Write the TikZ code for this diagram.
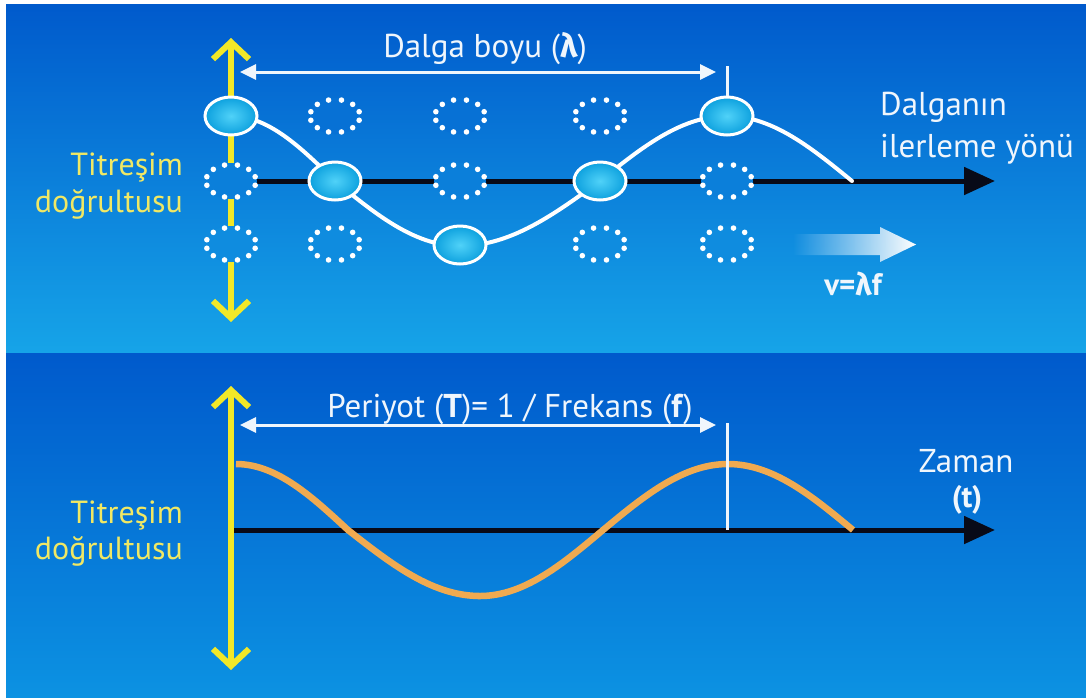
\documentclass[tikz,border=0pt]{standalone}
\usepackage{fontspec}
\setmainfont{PT Sans}
\newfontfamily\grk{Fira Sans}
\usetikzlibrary{arrows.meta,fadings,shapes.geometric}

\definecolor{panelTopA}{RGB}{0,90,204}
\definecolor{panelTopB}{RGB}{22,164,232}
\definecolor{panelBotA}{RGB}{0,90,204}
\definecolor{panelBotB}{RGB}{12,146,226}
\definecolor{vibYellow}{RGB}{242,232,40}
\definecolor{labelYellow}{RGB}{240,232,100}
\definecolor{waveOrange}{RGB}{240,170,80}
\definecolor{ballIn}{RGB}{80,210,248}
\definecolor{ballOut}{RGB}{12,160,222}
\definecolor{txtWhite}{RGB}{240,246,252}
\definecolor{axisBlack}{RGB}{8,10,24}
% background tones behind the three rows of dotted rings
\colorlet{rowA}{panelTopB!31!panelTopA}
\colorlet{rowB}{panelTopB!50!panelTopA}
\colorlet{rowC}{panelTopB!68!panelTopA}

\tikzfading[name=arrowfade, left color=transparent!100, middle color=transparent!5, right color=transparent!0]

\tikzset{
  vib/.style={draw=vibYellow, line width=6pt,
    {Straight Barb[length=17pt,width=36pt]}-{Straight Barb[length=17pt,width=36pt]}},
  dimline/.style={draw=txtWhite, line width=3pt,
    {Triangle[length=16pt,width=15pt]}-{Triangle[length=16pt,width=15pt]}},
  axisline/.style={draw=axisBlack, line width=5pt, -{Triangle[length=31pt,width=27pt]}},
  tick/.style={draw=txtWhite, line width=3pt},
  ball/.style={ellipse, minimum width=52pt, minimum height=38pt, inner sep=0pt,
    draw=white, line width=3pt, inner color=ballIn, outer color=ballOut},
  lbl/.style={text=txtWhite, font=\fontsize{33}{40}\selectfont, inner sep=0pt, anchor=base},
  bl/.style={text=txtWhite, font=\fontsize{31}{36}\selectfont\bfseries, inner sep=0pt, anchor=base},
  ylbl/.style={text=labelYellow, font=\fontsize{32}{38}\selectfont, inner sep=0pt,
    anchor=base east},
  pics/ring/.style={code={
    \fill[#1] (0,0) ellipse [x radius=26pt, y radius=18pt];
    \foreach \a in {0,30,...,330}
      \fill[white] ({25*cos(\a+15)},{16.5*sin(\a+15)}) circle[radius=2.8pt];
  }}
}

\begin{document}
\begin{tikzpicture}[x=1pt,y=-1pt]
\useasboundingbox (0,0) rectangle (1086,697);
\fill[white] (0,0) rectangle (1086,697);

% two panels
\shade[top color=panelTopA, bottom color=panelTopB] (6,4) rectangle (1086,353);
\shade[top color=panelBotA, bottom color=panelBotB] (6,353) rectangle (1086,697);

% ---------- upper panel: particles of the wave ----------
\coordinate (axA) at (231,181);
\coordinate (axB) at (995,181);
\draw[axisline] (axA) -- (axB);

\coordinate (vA) at (231,38);
\coordinate (vB) at (231,322);
\draw[vib] (vA) -- (vB);

% wave through the particles, built from quarter cosines
\draw[white, line width=4pt, line cap=round]
  plot[domain=0:90, samples=30]   ({231+104*\x/90},      {181-65*cos(\x)})
  -- plot[domain=90:180, samples=30] ({335+125*(\x-90)/90},  {181-65*cos(\x)})
  -- plot[domain=180:270, samples=30]({460+140*(\x-180)/90}, {181-65*cos(\x)})
  -- plot[domain=270:360, samples=30]({600+127*(\x-270)/90}, {181-65*cos(\x)})
  -- plot[domain=0:90, samples=30]   ({727+125*\x/90},      {181-65*cos(\x)});

% rest positions (dotted rings)
\pic at (335,116) {ring=rowA};
\pic at (460,116) {ring=rowA};
\pic at (600,116) {ring=rowA};
\pic at (231,181) {ring=rowB};
\pic at (460,181) {ring=rowB};
\pic at (727,181) {ring=rowB};
\pic at (231,244) {ring=rowC};
\pic at (335,244) {ring=rowC};
\pic at (600,244) {ring=rowC};
\pic at (727,244) {ring=rowC};

% displaced particles
\node[ball] (b1) at (231,116) {};
\node[ball] (b2) at (335,181) {};
\node[ball] (b3) at (460,245) {};
\node[ball] (b4) at (600,181) {};
\node[ball] (b5) at (727,116) {};

% wavelength
\coordinate (tkA) at (727,66);
\draw[tick] (tkA) -- (b5.north);
\coordinate (lamA) at (240,72);
\coordinate (lamB) at (716,72);
\draw[dimline] (lamA) -- (lamB);
\node[lbl] (lam) at (485,57) {Dalga boyu ({\grk\bfseries λ})};

\node[ylbl] (vt1a) at (183,175) {Titreşim};
\node[ylbl] (vt1b) at (183,212) {doğrultusu};
\node[lbl, anchor=base west] (dira) at (880,115) {Dalganın};
\node[lbl, anchor=base west] (dirb) at (880,157) {ilerleme yönü};

% propagation speed arrow
\fill[white, path fading=arrowfade] (793,234) -- (880,234) -- (880,227) -- (916,244.5)
  -- (880,262) -- (880,255) -- (793,255) -- cycle;
\node[bl] (vel) at (853,295) {v={\grk λ}f};

% ---------- lower panel: time graph ----------
\coordinate (axC) at (231,530);
\coordinate (axD) at (995,530);
\draw[axisline] (axC) -- (axD);

\draw[waveOrange, line width=6.5pt]
  plot[domain=0:90, samples=30]   ({236+112*\x/90},      {530-66*cos(\x)})
  -- plot[domain=90:180, samples=30] ({348+132*(\x-90)/90},  {530-66*cos(\x)})
  -- plot[domain=180:270, samples=30]({480+123*(\x-180)/90}, {530-66*cos(\x)})
  -- plot[domain=270:360, samples=30]({603+125*(\x-270)/90}, {530-66*cos(\x)})
  -- plot[domain=0:90, samples=30]   ({728+125*\x/90},      {530-66*cos(\x)});

\coordinate (vC) at (231,386);
\coordinate (vD) at (231,670);
\draw[vib] (vC) -- (vD);

\coordinate (tkB) at (727,423);
\coordinate (tkC) at (727,530);
\draw[tick] (tkB) -- (tkC);
\coordinate (perA) at (240,425);
\coordinate (perB) at (716,425);
\draw[dimline] (perA) -- (perB);
\node[lbl] (per) at (510,417) {Periyot (\textbf{T})= 1 / Frekans (\textbf{f})};

\node[ylbl] (vt2a) at (183,523) {Titreşim};
\node[ylbl] (vt2b) at (183,559) {doğrultusu};
\node[lbl] (zam) at (966,472) {Zaman};
\node[bl] (tt) at (967,507) {(t)};
\end{tikzpicture}
\end{document}
